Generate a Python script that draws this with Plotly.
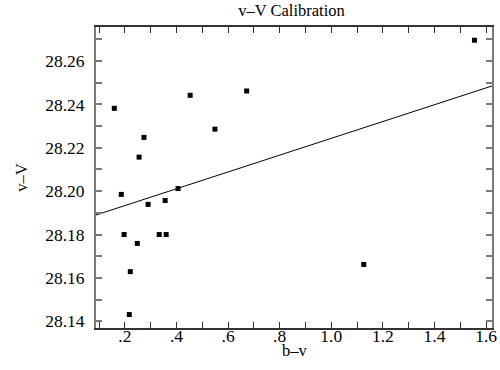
import plotly.graph_objects as go

# data
b_v = [0.159, 0.186, 0.197, 0.217, 0.221, 0.248, 0.255, 0.274, 0.290, 0.333,
       0.356, 0.360, 0.406, 0.453, 0.549, 0.672, 1.126, 1.555]
v_V = [28.2382, 28.1985, 28.1800, 28.1431, 28.1629, 28.1759, 28.2157, 28.2248,
       28.1939, 28.1800, 28.1957, 28.1800, 28.2012, 28.2442, 28.2286, 28.2462,
       28.1662, 28.2696]

# calibration fit: v-V = intercept + slope * (b-v)
fit_slope = 0.03876
fit_intercept = 28.1856

x_tickvals = [0.1, 0.2, 0.3, 0.4, 0.5, 0.6, 0.7, 0.8, 0.9, 1.0, 1.1, 1.2, 1.3, 1.4, 1.5, 1.6]
x_ticktext = ["", ".2", "", ".4", "", ".6", "", ".8", "", "1.0", "", "1.2", "", "1.4", "", "1.6"]
y_tickvals = [28.14, 28.15, 28.16, 28.17, 28.18, 28.19, 28.20, 28.21, 28.22, 28.23,
              28.24, 28.25, 28.26, 28.27]
y_ticktext = ["28.14", "", "28.16", "", "28.18", "", "28.20", "", "28.22", "",
              "28.24", "", "28.26", ""]

x_range = [0.088, 1.623]
y_range = [28.1369, 28.2757]

font_family = "Liberation Serif"

fig = go.Figure()
fig.add_trace(go.Scatter(
    x=x_range,
    y=[fit_intercept + fit_slope * x for x in x_range],
    mode="lines",
    line=dict(color="black", width=1),
    hoverinfo="skip",
))
fig.add_trace(go.Scatter(
    x=b_v, y=v_V, mode="markers",
    marker=dict(symbol="square", size=5, color="black", line=dict(width=0)),
))

fig.update_layout(
    width=500, height=370,
    margin=dict(l=96, r=8, t=27, b=42, autoexpand=False),
    paper_bgcolor="white", plot_bgcolor="white",
    showlegend=False,
    font=dict(family=font_family, color="black", size=15),
    title=dict(text="v–V Calibration", x=0.583, xanchor="center", y=0.972, yanchor="middle",
               font=dict(family=font_family, size=16.5, color="black")),
    annotations=[
        dict(text="b–v", xref="paper", yref="paper", x=0.5025, y=-0.074,
             xanchor="center", yanchor="middle", showarrow=False,
             font=dict(family=font_family, size=16.5, color="black")),
        dict(text="v–V", xref="paper", yref="paper", x=-0.189, y=0.50,
             xanchor="center", yanchor="middle", textangle=-90, showarrow=False,
             font=dict(family=font_family, size=16.5, color="black")),
    ],
)
fig.update_xaxes(
    range=x_range, tickvals=x_tickvals, ticktext=x_ticktext,
    ticks="inside", ticklen=6, tickwidth=1.2, tickcolor="#333333",
    showline=True, linecolor="#333333", linewidth=1.5, mirror="ticks",
    showgrid=False, zeroline=False, automargin=False,
    tickfont=dict(size=17.5, family=font_family, color="black"),
    ticklabelstandoff=-9,
)
fig.update_yaxes(
    range=y_range, tickvals=y_tickvals, ticktext=y_ticktext,
    ticks="inside", ticklen=6, tickwidth=1.5, tickcolor="#7a7a7a",
    showline=True, linecolor="#7a7a7a", linewidth=2, mirror="ticks",
    showgrid=False, zeroline=False, automargin=False,
    tickfont=dict(size=17.5, family=font_family, color="black"),
    ticklabelstandoff=6,
)

fig.write_html("out.html", config={"displayModeBar": False},
               post_script="document.body.style.margin='0';")
